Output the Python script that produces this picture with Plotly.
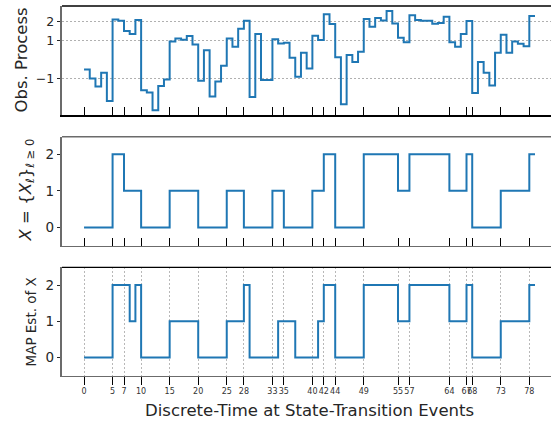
import plotly.graph_objects as go

# ---------------- data ----------------
transition_ticks = [0, 5, 7, 10, 15, 20, 25, 28, 33, 35, 40, 42, 44, 49, 55, 57, 64, 67, 68, 73, 78]

obs_values = [-0.52, -1.00, -1.42, -0.70, -2.18, 2.12, 2.05, 1.51, 1.35, 2.09,
              -1.62, -1.74, -2.67, -1.39, -1.05, 0.96, 1.12, 1.05, 1.24, 0.80,
              -1.12, 0.50, -1.95, -1.16, -0.33, 1.12, 0.68, 1.63, 2.05, -1.97,
              1.35, -1.07, -1.07, 1.08, 0.85, 0.89, 0.10, -0.91, 0.36, -0.47,
              1.26, 1.03, 2.39, 1.88, 0.13, -2.36, 0.24, -0.13, 0.41, 2.14,
              1.74, 2.19, 2.07, 2.56, 1.91, 1.15, 0.92, 2.34, 2.09, 2.05,
              2.05, 1.89, 1.93, 2.26, 0.92, 0.68, 1.35, 2.04, -1.76, -0.13,
              -0.70, -1.37, 0.36, 1.31, 0.36, 0.96, 0.84, 0.71, 2.30]

true_times = [0, 5, 7, 10, 15, 20, 25, 28, 33, 35, 40, 42, 44, 49, 55, 57, 64, 67, 68, 73, 78]
true_states = [0, 2, 1, 0, 1, 0, 1, 0, 1, 0, 1, 2, 0, 2, 1, 2, 1, 2, 0, 1, 2]

map_times = [0, 5, 8, 9, 10, 15, 20, 25, 28, 29, 34, 37, 41, 42, 44, 49, 55, 57, 64, 67, 68, 73, 78]
map_states = [0, 2, 1, 2, 0, 1, 0, 1, 2, 0, 1, 0, 1, 2, 0, 2, 1, 2, 1, 2, 0, 1, 2]

t_end = 79

# ---------------- figure ----------------
W, H = 551, 423
BLUE = "#1f77b4"
GRAY = "#6b6b6b"
TXT = "#262626"

def py(p):  # pixel from top -> paper fraction
    return 1 - p / H

x_dom = [62 / W, 1.0]
dom_top = [py(115.3), py(6)]
dom_mid = [py(245.7), py(136.7)]
dom_bot = [py(375.7), py(267.3)]

x_obs = list(range(len(obs_values))) + [t_end]
y_obs = obs_values + [obs_values[-1]]
x_true = true_times + [t_end]
y_true = true_states + [true_states[-1]]
x_map = map_times + [t_end]
y_map = map_states + [map_states[-1]]

fig = go.Figure()
line = dict(color=BLUE, width=2, shape="hv")
fig.add_trace(go.Scatter(x=x_obs, y=y_obs, mode="lines", line=line, xaxis="x", yaxis="y", showlegend=False))
fig.add_trace(go.Scatter(x=x_true, y=y_true, mode="lines", line=line, xaxis="x2", yaxis="y2", showlegend=False))
fig.add_trace(go.Scatter(x=x_map, y=y_map, mode="lines", line=line, xaxis="x3", yaxis="y3", showlegend=False))

xr = [-3.86, 81.8]
common_x = dict(range=xr, domain=x_dom, tickvals=transition_ticks, tickangle=0, zeroline=False,
                showline=True, linewidth=1.6, fixedrange=True)
DOT = "1.5px,2.5px"

fig.update_layout(
    width=W, height=H, margin=dict(l=0, r=0, t=0, b=0),
    paper_bgcolor="white", plot_bgcolor="white",
    font=dict(family="DejaVu Sans", color=TXT),
    xaxis=dict(**common_x, anchor="y", ticks="inside", ticklen=8, tickcolor="black", tickwidth=1,
               showticklabels=False, showgrid=False, linecolor="black"),
    yaxis=dict(domain=dom_top, anchor="x", range=[-2.94, 2.83], tickvals=[-1, 1, 2],
               ticks="outside", ticklen=3.5, tickcolor=TXT, tickfont=dict(size=12.5),
               showgrid=True, gridcolor="#b0b0b0", griddash=DOT, gridwidth=1,
               showline=True, linecolor=GRAY, linewidth=1.7, zeroline=False, fixedrange=True),
    xaxis2=dict(**common_x, anchor="y2", ticks="inside", ticklen=8, tickcolor="black", tickwidth=1,
                showticklabels=False, showgrid=False, linecolor=GRAY),
    yaxis2=dict(domain=dom_mid, anchor="x2", range=[-0.5, 2.48], tickvals=[0, 1, 2],
                ticks="outside", ticklen=3.5, tickcolor=TXT, tickfont=dict(size=13.5),
                showgrid=False, showline=True, linecolor=GRAY, linewidth=1.7, zeroline=False,
                fixedrange=True),
    xaxis3=dict(**common_x, anchor="y3", ticks="outside", ticklen=7.5, tickcolor="black", tickwidth=1,
                showticklabels=True, tickfont=dict(size=8, color="#333333"),
                showgrid=True, gridcolor="#b8b8b8", griddash=DOT, gridwidth=1, linecolor=GRAY),
    yaxis3=dict(domain=dom_bot, anchor="x3", range=[-0.5, 2.49], tickvals=[0, 1, 2],
                ticks="outside", ticklen=3.5, tickcolor=TXT, tickfont=dict(size=13.5),
                showgrid=False, showline=True, linecolor=GRAY, linewidth=1.7, zeroline=False,
                fixedrange=True),
)

# top spines
for xa, ya, col, wd in [("x", "y", "black", 1.3), ("x2", "y2", GRAY, 1.6), ("x3", "y3", "black", 1.3)]:
    fig.add_shape(type="line", xref=f"{xa} domain", yref=f"{ya} domain", x0=0, x1=1, y0=1, y1=1,
                  line=dict(color=col, width=wd), layer="above")

# axis titles
fig.add_annotation(text="Obs. Process", textangle=-90, x=21 / W, y=py(60.5), xref="paper", yref="paper",
                   xanchor="center", yanchor="middle", showarrow=False, font=dict(size=16.5, color=TXT))
fig.add_annotation(text="<i>X</i> = {<i>X</i><sub><i>ℓ</i></sub>}<sub><i>ℓ</i> ≥ 0</sub>", textangle=-90,
                   x=26 / W, y=py(190.5), xref="paper", yref="paper",
                   xanchor="center", yanchor="middle", showarrow=False, font=dict(size=16.5, color=TXT))
fig.add_annotation(text="MAP Est. of X", textangle=-90, x=30 / W, y=py(322.5), xref="paper", yref="paper",
                   xanchor="center", yanchor="middle", showarrow=False, font=dict(size=13.5, color=TXT))
fig.add_annotation(text="Discrete-Time at State-Transition Events", x=309.7 / W, y=py(410), xref="paper",
                   yref="paper", xanchor="center", yanchor="middle", showarrow=False,
                   font=dict(size=16.5, color=TXT))

fig.write_html("out.html", config={"displayModeBar": False, "staticPlot": True},
               post_script="document.body.style.margin='0';document.body.style.overflow='hidden';")
